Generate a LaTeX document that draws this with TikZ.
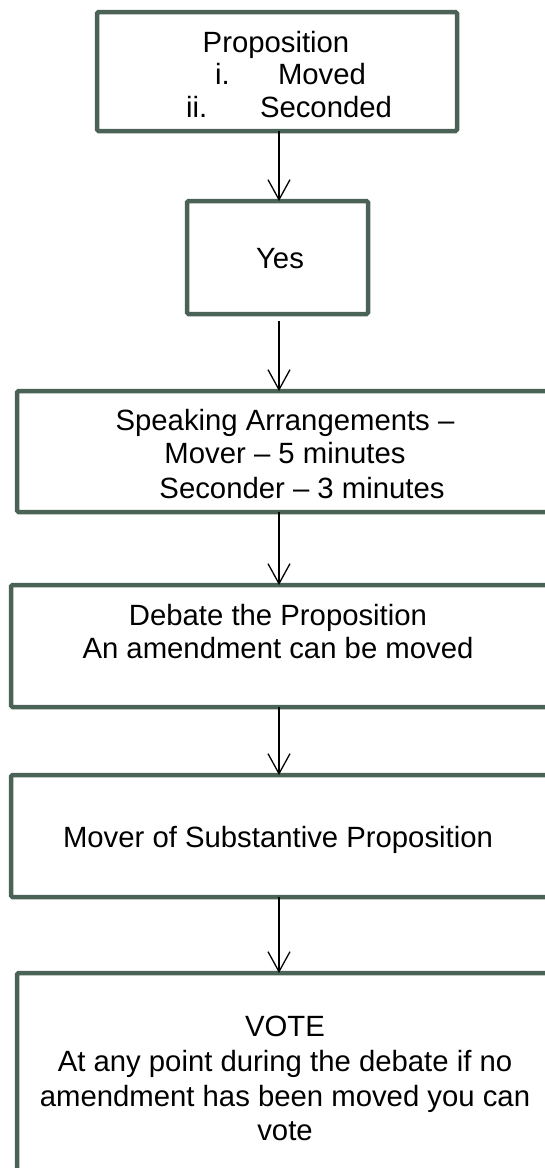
\documentclass[tikz,border=0pt]{standalone}
\usepackage{fontspec}
\setmainfont{Liberation Sans}
\usetikzlibrary{arrows.meta}
\definecolor{boxc}{RGB}{75,98,86}
\begin{document}
\begin{tikzpicture}[x=1pt,y=-1pt,
  box/.style={draw=boxc, line width=4.5pt, rounded corners=1.5pt, rectangle, inner sep=0pt, outer sep=0pt},
  txt/.style={font=\fontsize{29.3}{35}\selectfont, inner sep=0pt, outer sep=0pt, text=black},
  arr/.style={draw=black, line width=1.3pt, -{Straight Barb[length=20pt,width=22pt]}}]
\useasboundingbox (0,0) rectangle (545,1168);
% boxes
\node[box, minimum width=360pt, minimum height=119pt] (b1) at (277,71.5) {};
\node[box, minimum width=181pt, minimum height=113pt] (yes) at (277.5,257.5) {};
\node[box, minimum width=548pt, minimum height=121pt] (b3) at (291,451.5) {};
\node[box, minimum width=554pt, minimum height=122pt] (b4) at (288,646) {};
\node[box, minimum width=554pt, minimum height=122pt] (b5) at (288,836) {};
\node[box, minimum width=548pt, minimum height=217pt] (b6) at (291,1081.5) {};
% texts
\node[txt, anchor=base] (t1a) at (276,52) {Proposition};
\node[txt, anchor=base west] (t1b) at (215,84) {i.};
\node[txt, anchor=base west] (t1c) at (278,84) {Moved};
\node[txt, anchor=base west] (t1d) at (186,117) {ii.};
\node[txt, anchor=base west] (t1e) at (260,117) {Seconded};
\node[txt, anchor=base] (t2) at (280,268) {Yes};
\node[txt, anchor=base] (t3a) at (285,430) {Speaking Arrangements –};
\node[txt, anchor=base] (t3b) at (285,463) {Mover – 5 minutes};
\node[txt, anchor=base] (t3c) at (302,498) {Seconder – 3 minutes};
\node[txt, anchor=base] (t4a) at (278,625) {Debate the Proposition};
\node[txt, anchor=base] (t4b) at (278,658) {An amendment can be moved};
\node[txt, anchor=base] (t5) at (278,847) {Mover of Substantive Proposition};
\node[txt, anchor=base] (t6a) at (285,1036) {VOTE};
\node[txt, anchor=base] (t6b) at (285,1071) {At any point during the debate if no};
\node[txt, anchor=base] (t6c) at (285,1106) {amendment has been moved you can};
\node[txt, anchor=base] (t6d) at (285,1140) {vote};
% connectors
\coordinate (ax) at (279,0);
\draw[arr] (b1.south -| ax) -- (yes.north -| ax);
\draw[arr, shorten <=7pt] (yes.south -| ax) -- (b3.north -| ax);
\draw[arr] (b3.south -| ax) -- (b4.north -| ax);
\draw[arr] (b4.south -| ax) -- (b5.north -| ax);
\draw[arr] (b5.south -| ax) -- (b6.north -| ax);
\end{tikzpicture}
\end{document}
